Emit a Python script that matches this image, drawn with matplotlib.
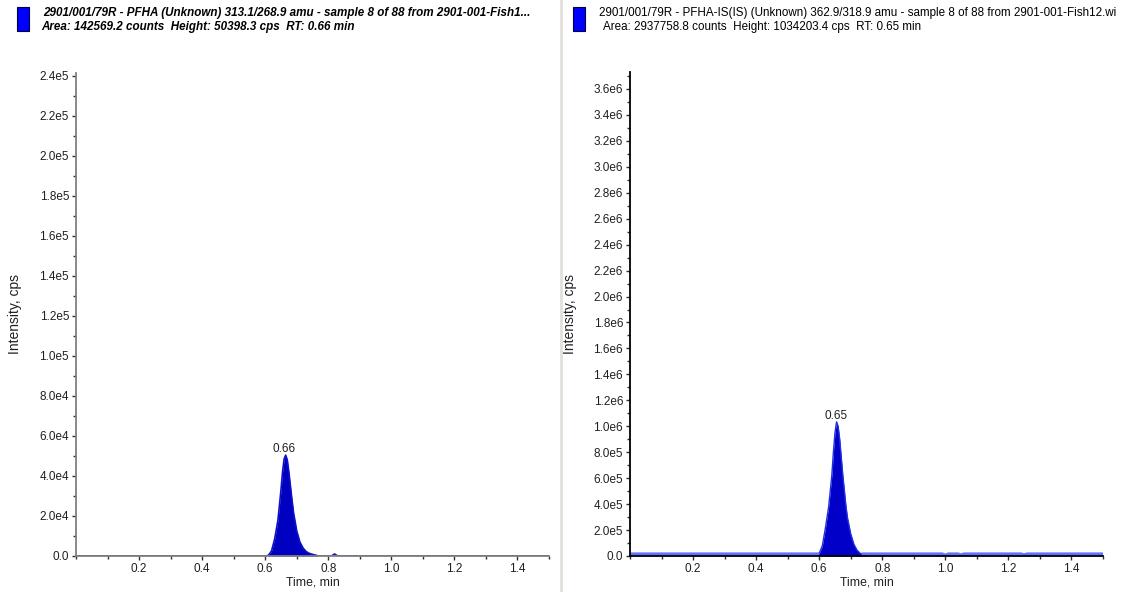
import numpy as np
import matplotlib.pyplot as plt
from matplotlib.ticker import MultipleLocator, FuncFormatter
from matplotlib.patches import Rectangle
from matplotlib.lines import Line2D

plt.rcParams['font.family'] = ['Liberation Sans', 'DejaVu Sans']

# analyte trace (PFHA), time in min, intensity in cps
left_time = [0.0, 0.600, 0.610, 0.620, 0.630, 0.640, 0.645, 0.650, 0.655, 0.660,
             0.665, 0.670, 0.675, 0.680, 0.685, 0.690, 0.695, 0.700, 0.710,
             0.720, 0.730, 0.740, 0.750, 0.760, 0.770, 0.810, 0.820, 0.830, 1.5]
left_int = [0, 0, 300, 2500, 8500, 17500, 25000, 33000, 42000, 48500,
            50400, 48000, 42000, 35000, 28000, 21500, 17000, 12500, 7000,
            4000, 2200, 1300, 800, 400, 0, 0, 1000, 0, 0]

# internal standard trace (PFHA-IS)
right_time = [0.0, 0.595, 0.600, 0.610, 0.620, 0.630, 0.635, 0.640, 0.645, 0.650,
              0.655, 0.660, 0.665, 0.670, 0.675, 0.680, 0.685, 0.690, 0.700,
              0.710, 0.720, 0.730, 0.740, 0.750, 0.990, 1.000, 1.010, 1.040,
              1.050, 1.060, 1.240, 1.250, 1.260, 1.5]
right_int = [15000, 15000, 20000, 80000, 220000, 380000, 500000, 620000, 800000, 950000,
             1034000, 1000000, 900000, 760000, 620000, 500000, 380000, 290000, 170000,
             90000, 45000, 20000, 15000, 15000, 15000, 5000, 15000, 15000,
             8000, 15000, 15000, 8000, 15000, 15000]

left_rt, left_apex = 0.66, 50398.3
right_rt, right_apex = 0.65, 1034203.4
left_limits = (0.61, 0.76)
right_limits = (0.60, 0.74)

left_title = "2901/001/79R - PFHA (Unknown) 313.1/268.9 amu - sample 8 of 88 from 2901-001-Fish1..."
left_sub = "Area: 142569.2 counts  Height: 50398.3 cps  RT: 0.66 min"
right_title = "2901/001/79R - PFHA-IS(IS) (Unknown) 362.9/318.9 amu - sample 8 of 88 from 2901-001-Fish12.wi"
right_sub = "Area: 2937758.8 counts  Height: 1034203.4 cps  RT: 0.65 min"

W, H = 1121, 592
fig = plt.figure(figsize=(W / 100, H / 100), dpi=100)


def fmt(v, pos):
    if v == 0:
        return "0.0"
    e = int(np.floor(np.log10(abs(v)) + 1e-9))
    return "%.1fe%d" % (v / 10 ** e, e)


def setup(ax, ymax, ystep, spine_col, label_x):
    ax.set_xlim(0, 1.5)
    ax.set_ylim(0, ymax)
    ax.set_xticks([0.2, 0.4, 0.6, 0.8, 1.0, 1.2, 1.4])
    ax.xaxis.set_minor_locator(MultipleLocator(0.1))
    ax.yaxis.set_major_locator(MultipleLocator(ystep))
    ax.yaxis.set_minor_locator(MultipleLocator(ystep / 2))
    ax.yaxis.set_major_formatter(FuncFormatter(fmt))
    for s in ['top', 'right']:
        ax.spines[s].set_visible(False)
    for s in ['left', 'bottom']:
        ax.spines[s].set_color(spine_col)
        ax.spines[s].set_linewidth(1.3)
    ax.tick_params(which='major', length=3, width=1, color='#303030',
                   labelsize=8.5, labelcolor='#202020', pad=2)
    ax.tick_params(which='minor', length=2, width=1, color='#303030')
    ax.set_xlabel("Time, min", fontsize=8.8, color='#202020', labelpad=1)
    ax.set_ylabel("Intensity, cps", fontsize=10, color='#202020')
    ax.yaxis.set_label_coords(label_x, 0.5)


# left panel
ax1 = fig.add_axes([76 / W, 36 / H, 473 / W, 483 / H])
setup(ax1, 2.4135e5, 2.0e4, '#808080', -0.115)
t = np.array(left_time)
y = np.array(left_int)
ax1.fill_between(t, 0, y, where=(t >= 0.6) & (t <= 0.77), color='#0000c0', lw=0)
ax1.plot(t, y, color='#1010c8', lw=1.2)
ax1.plot(left_limits, [0, 0], color='#000000', lw=0.9, ls=(0, (1, 2)))
ax1.text(left_rt + 0.001, left_apex, "%.2f" % left_rt, ha='center', va='bottom',
         fontsize=8.5, color='#202020')

# right panel
ax2 = fig.add_axes([630 / W, 36 / H, 473 / W, 484 / H])
setup(ax2, 3.731e6, 2.0e5, '#000000', -0.111)
t = np.array(right_time)
y = np.array(right_int)
in_peak = (t >= 0.595) & (t <= 0.75)
ax2.fill_between(t, 0, y, where=in_peak, color='#0000c8', lw=0)
ax2.plot(t, y, color='#2030e0', lw=1.0)
# baseline drawn thicker and lighter outside the peak
ax2.plot(t, np.where(in_peak & (y > 16000), np.nan, y), color='#6072ff', lw=2.4)
ax2.plot(right_limits, [0, 0], color='#000000', lw=0.9, ls=(0, (1, 2)))
ax2.text(right_rt + 0.002, right_apex, "%.2f" % right_rt, ha='center', va='bottom',
         fontsize=8.5, color='#202020')

# divider between panels
fig.add_artist(Line2D([560.5 / W, 560.5 / W], [0, 1], color='#e4e0dc', lw=2))

# header boxes and titles
for x0, title, sub, weight, style, xs in [
        (17, left_title, left_sub, 'bold', 'italic', -2),
        (573, right_title, right_sub, 'normal', 'normal', 4)]:
    fig.add_artist(Rectangle((x0 / W, 1 - 31 / H), 12 / W, 24 / H,
                             transform=fig.transFigure, facecolor='#0000ff',
                             edgecolor='#000040', lw=0.8))
    fig.text((x0 + 26) / W, 1 - 13 / H, title, fontsize=8.4, weight=weight,
             style=style, va='center', ha='left', color='#000000')
    fig.text((x0 + 26 + xs) / W, 1 - 27 / H, sub, fontsize=8.4, weight=weight,
             style=style, va='center', ha='left', color='#000000')

fig.savefig("out.png", dpi=100)
